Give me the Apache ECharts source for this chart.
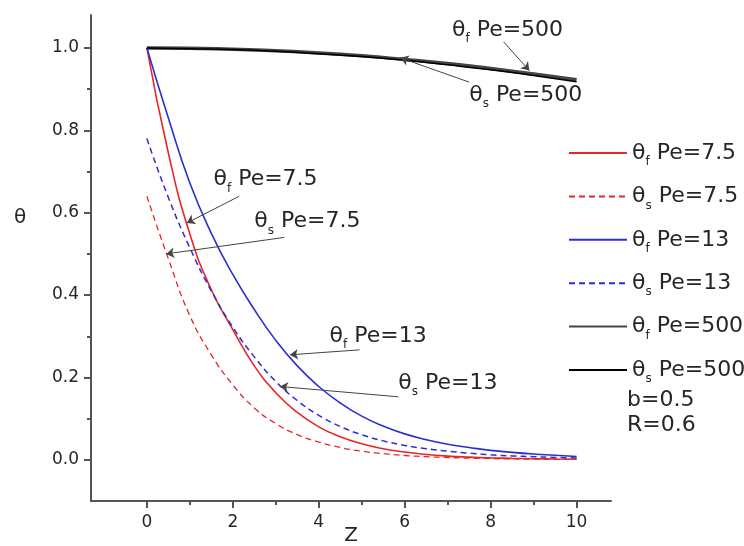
<!DOCTYPE html>
<html>
<head>
<meta charset="utf-8">
<script src="https://cdn.jsdelivr.net/npm/echarts@6/dist/echarts.min.js"></script>
<style>
  html, body { margin: 0; padding: 0; background: #fff; }
  #chart { width: 744px; height: 546px; }
</style>
</head>
<body>
<div id="chart"></div>
<script>
// sample points along Z (step 0.5)
const zValues = [0, 0.5, 1, 1.5, 2, 2.5, 3, 3.5, 4, 4.5, 5, 5.5, 6, 6.5, 7, 7.5, 8, 8.5, 9, 9.5, 10];
const thetaF75 = [1.0, 0.745, 0.548, 0.413, 0.316, 0.228, 0.163, 0.115, 0.08, 0.056, 0.039, 0.027, 0.019, 0.013, 0.009, 0.0065, 0.0047, 0.0035, 0.0027, 0.002, 0.0015];
const thetaS75 = [0.64, 0.488, 0.35, 0.255, 0.182, 0.126, 0.088, 0.061, 0.043, 0.030, 0.021, 0.015, 0.0105, 0.0075, 0.0055, 0.004, 0.003, 0.0022, 0.0016, 0.0012, 0.001];
const thetaF13 = [1.0, 0.83, 0.672, 0.55, 0.45, 0.365, 0.29, 0.228, 0.178, 0.138, 0.106, 0.082, 0.063, 0.049, 0.038, 0.03, 0.023, 0.018, 0.014, 0.011, 0.008];
const thetaS13 = [0.78, 0.637, 0.515, 0.41, 0.322, 0.25, 0.19, 0.144, 0.108, 0.081, 0.061, 0.046, 0.035, 0.027, 0.021, 0.016, 0.012, 0.0095, 0.0075, 0.0058, 0.0045];

const zValues500 = [0, 1, 2, 3, 4, 5, 6, 7, 8, 9, 10];
const thetaF500 = [1.0, 0.999, 0.997, 0.993, 0.988, 0.981, 0.972, 0.962, 0.950, 0.937, 0.923];
const thetaS500 = [1.0, 0.998, 0.996, 0.992, 0.986, 0.979, 0.970, 0.959, 0.947, 0.933, 0.918];

// tick labels
const xLabels = [0, 2, 4, 6, 8, 10];
const xMinorTicks = [1, 3, 5, 7, 9];
const yLabels = [0, 0.2, 0.4, 0.6, 0.8, 1.0];
const yMinorTicks = [0.1, 0.3, 0.5, 0.7, 0.9];

// callout texts with their arrows (in data units)
const callouts = [
  { name: 'θf Pe=500', at: [7.1, 1.044], from: [8.3, 1.015], to: [8.9, 0.945] },
  { name: 'θs Pe=500', at: [7.5, 0.886], from: [7.5, 0.917], to: [5.9, 0.976] },
  { name: 'θf Pe=7.5', at: [1.55, 0.68], from: [2.15, 0.64], to: [0.93, 0.575] },
  { name: 'θs Pe=7.5', at: [2.5, 0.578], from: [3.2, 0.54], to: [0.45, 0.50] },
  { name: 'θf Pe=13', at: [4.25, 0.30], from: [4.95, 0.267], to: [3.33, 0.255] },
  { name: 'θs Pe=13', at: [5.85, 0.187], from: [5.85, 0.153], to: [3.1, 0.178] }
];

const pairs = (xs, ys) => xs.map((x, i) => [x, ys[i]]);

const FONT = '"DejaVu Sans", "Liberation Sans", sans-serif';
const TEXT = '#262626';
const AXIS = '#555';

// "θf" -> θ with a subscript
const thetaRich = {
  th: { fontSize: 22, fontFamily: FONT, color: TEXT, lineHeight: 30 },
  sub: { fontSize: 12, fontFamily: FONT, color: TEXT, lineHeight: 14, verticalAlign: 'bottom' },
  txt: { fontSize: 22, fontFamily: FONT, color: TEXT, lineHeight: 30 }
};
const thetaLabel = (name) => name.replace(/^θ([fs]) (.*)$/, '{th|θ}{sub|$1}{txt| $2}');

const curve = (name, xs, ys, color, width, dashed) => ({
  name,
  type: 'line',
  smooth: 0.5,
  showSymbol: false,
  symbol: 'none',
  data: pairs(xs, ys),
  lineStyle: { color, width, type: dashed ? [6, 4] : 'solid' },
  itemStyle: { color },
  z: 3
});

const chart = echarts.init(document.getElementById('chart'), null, { renderer: 'canvas' });

// plot area: x from -1.3 to 10.8, y from -0.1 to 1.08
const gridBox = { left: 91, right: 133, top: 15, bottom: 45, outerBoundsMode: 'none' };

const option = {
  animation: false,
  backgroundColor: '#fff',
  grid: [Object.assign({}, gridBox), Object.assign({}, gridBox)],
  xAxis: [
    {
      type: 'value', gridIndex: 0, min: -1.3, max: 10.8,
      name: 'Z', nameLocation: 'middle', nameGap: 25, nameMoveOverlap: false,
      nameTextStyle: { fontSize: 20, fontFamily: FONT, color: TEXT },
      axisLine: { show: true, onZero: false, lineStyle: { color: AXIS, width: 2 } },
      axisTick: { show: true, customValues: xLabels, length: 7, lineStyle: { color: AXIS, width: 2 } },
      axisLabel: { customValues: xLabels, margin: 13, fontSize: 17, fontFamily: FONT, color: TEXT },
      splitLine: { show: false }
    },
    {
      type: 'value', gridIndex: 1, min: -1.3, max: 10.8,
      axisLine: { show: false, onZero: false },
      axisTick: { show: true, customValues: xMinorTicks, length: 4, lineStyle: { color: AXIS, width: 2 } },
      axisLabel: { show: false },
      splitLine: { show: false }
    }
  ],
  yAxis: [
    {
      type: 'value', gridIndex: 0, min: -0.1, max: 1.08,
      axisLine: { show: true, onZero: false, lineStyle: { color: AXIS, width: 2 } },
      axisTick: { show: true, customValues: yLabels, length: 7, lineStyle: { color: AXIS, width: 2 } },
      axisLabel: {
        customValues: yLabels, margin: 12, fontSize: 17, fontFamily: FONT, color: TEXT,
        formatter: (v) => v.toFixed(1)
      },
      splitLine: { show: false }
    },
    {
      type: 'value', gridIndex: 1, min: -0.1, max: 1.08,
      axisLine: { show: false, onZero: false },
      axisTick: { show: true, customValues: yMinorTicks, length: 4, lineStyle: { color: AXIS, width: 2 } },
      axisLabel: { show: false },
      splitLine: { show: false }
    }
  ],
  legend: {
    orient: 'vertical',
    left: 563,
    top: 137,
    itemWidth: 58,
    itemHeight: 14,
    itemGap: 17.4,
    // hide the round marker, keep only the line sample
    itemStyle: { color: 'rgba(0,0,0,0)', borderWidth: 0, opacity: 0 },
    data: ['θf Pe=7.5', 'θs Pe=7.5', 'θf Pe=13', 'θs Pe=13', 'θf Pe=500', 'θs Pe=500'],
    formatter: thetaLabel,
    textStyle: { rich: thetaRich },
    selectedMode: false
  },
  series: [
    curve('θf Pe=7.5', zValues, thetaF75, '#e8262a', 1.6, false),
    curve('θs Pe=7.5', zValues, thetaS75, '#e8262a', 1.3, true),
    curve('θf Pe=13', zValues, thetaF13, '#2b2fd0', 1.6, false),
    curve('θs Pe=13', zValues, thetaS13, '#2b2fd0', 1.5, true),
    curve('θf Pe=500', zValues500, thetaF500, '#444', 3.5, false),
    curve('θs Pe=500', zValues500, thetaS500, '#000', 1.5, false),
    {
      name: 'callout arrows',
      type: 'lines',
      coordinateSystem: 'cartesian2d',
      symbol: ['none', 'arrow'],
      symbolSize: [0, 8],
      lineStyle: { color: '#444', width: 1, opacity: 1 },
      data: callouts.map((c) => ({ coords: [c.from, c.to] })),
      z: 5
    },
    {
      name: 'callout texts',
      type: 'scatter',
      symbolSize: 0,
      itemStyle: { opacity: 1 },
      data: callouts.map((c) => ({ value: c.at, name: c.name })),
      label: {
        show: true,
        position: 'right',
        distance: 0,
        opacity: 1,
        color: TEXT,
        formatter: (p) => thetaLabel(p.name),
        rich: thetaRich
      },
      silent: true,
      z: 6
    }
  ],
  graphic: [
    { type: 'text', left: 14, top: 208, style: { text: 'θ', fontSize: 20, fontFamily: FONT, fill: TEXT } },
    { type: 'text', left: 627, top: 389, style: { text: 'b=0.5', fontSize: 22, fontFamily: FONT, fill: TEXT } },
    { type: 'text', left: 627, top: 414, style: { text: 'R=0.6', fontSize: 22, fontFamily: FONT, fill: TEXT } }
  ]
};

chart.setOption(option);
</script>
</body>
</html>
